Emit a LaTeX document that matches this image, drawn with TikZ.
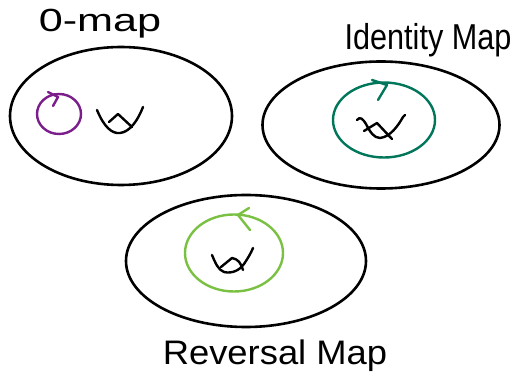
\documentclass[tikz,border=0pt]{standalone}
\usepackage{fontspec}
\setmainfont{Liberation Sans}
\usetikzlibrary{shapes.geometric}
\definecolor{purp}{HTML}{7B1E8C}
\definecolor{dkgreen}{HTML}{00775A}
\definecolor{ltgreen}{HTML}{7AC143}
\begin{document}
\begin{tikzpicture}[x=1pt,y=-1pt,
  setbox/.style={draw=black, line width=2.6pt, shape=ellipse, inner sep=0pt},
  loopbox/.style={shape=ellipse, inner sep=0pt, line width=2.4pt},
  squig/.style={draw=black, line width=2.4pt, line cap=round, line join=round},
  chev/.style={line width=2.4pt, line cap=round, line join=round},
  lbl/.style={inner sep=0pt, text=black}]
\useasboundingbox[fill=white] (0,0) rectangle (523,382);
% sets
\node[setbox, minimum width=222pt, minimum height=138pt] (e1) at (121,116) {};
\node[setbox, minimum width=237pt, minimum height=127pt] (e2) at (381,125) {};
\node[setbox, minimum width=240pt, minimum height=132pt] (e3) at (246,261) {};
% loops
\node[loopbox, draw=purp, minimum width=44pt, minimum height=40pt] (c1) at (59,114) {};
\node[loopbox, draw=dkgreen, minimum width=102pt, minimum height=75pt] (c2) at (384,120) {};
\node[loopbox, draw=ltgreen, minimum width=98pt, minimum height=77pt] (c3) at (234,253) {};
% arrow marks on loops
\draw[chev, purp] (48,92) -- (58,97) -- (53,106);
\draw[chev, dkgreen] (372,80) -- (387,85) -- (378,100);
\draw[chev, ltgreen] (249,208) -- (238,215) -- (250,230);
% squiggles (the elements)
\draw[squig] (97,110) .. controls (104,127) and (112,134) .. (120,133) .. controls (130,132) and (138,120) .. (143,107);
\draw[squig] (109,122) -- (118,114) -- (132,127);
\draw[squig] (357,120) .. controls (360,116) and (363,119) .. (366,124) .. controls (370,132) and (374,138) .. (380,138) .. controls (390,137) and (398,126) .. (403,117) -- (405,115);
\draw[squig] (364,131) -- (377,123) -- (392,139);
\draw[squig] (212,255) .. controls (215,262) and (218,270) .. (224,272) .. controls (232,274) and (240,270) .. (244,264) .. controls (248,258) and (251,253) .. (253,248);
\draw[squig] (221,267) -- (232,258) .. controls (238,259) and (241,263) .. (243,270);
% labels
\node[lbl] (t1) at (100,24) {\scalebox{1.35}[1]{\fontsize{32}{32}\selectfont 0-map}};
\node[lbl] (t2) at (428,40) {\scalebox{0.85}[1]{\fontsize{36}{36}\selectfont Identity Map}};
\node[lbl] (t3) at (275,356) {\scalebox{1.07}[1]{\fontsize{34}{34}\selectfont Reversal Map}};
\end{tikzpicture}
\end{document}
